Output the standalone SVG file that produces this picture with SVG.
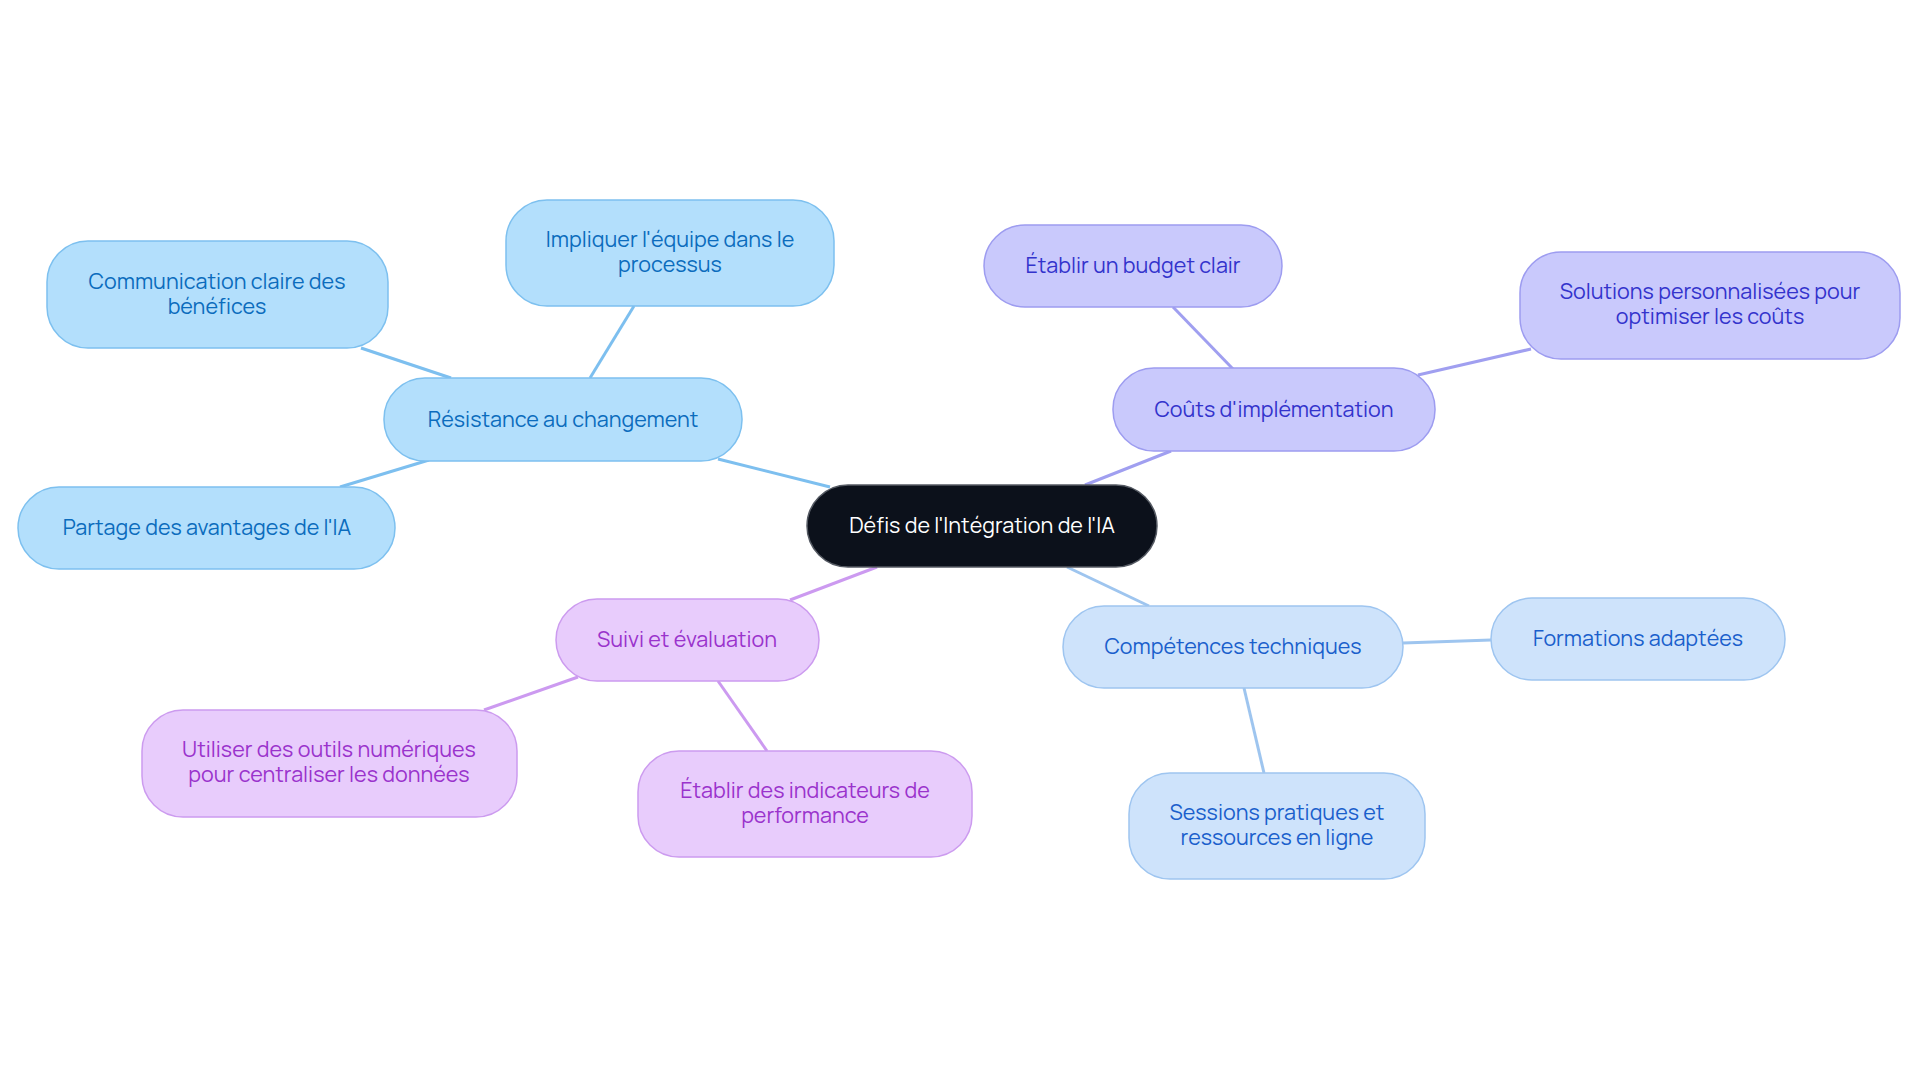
<svg xmlns="http://www.w3.org/2000/svg" width="1920" height="1083" viewBox="0 0 1920 1083">
<style>
text{font-family:Manrope,Inter,"Noto Sans",sans-serif;font-size:21.5px;text-anchor:middle;dominant-baseline:central}
.c rect{fill:#0c111b;stroke:#555a63;stroke-width:1.5}
.c text{fill:#ffffff}
.b rect{fill:#b3dffc;stroke:#7dc0ef;stroke-width:1.5}
.b text{fill:#0b6cbd}
.p rect{fill:#c9c9fc;stroke:#9d9cf0;stroke-width:1.5}
.p text{fill:#3333cc}
.v rect{fill:#e8ccfc;stroke:#cc9bef;stroke-width:1.5}
.v text{fill:#9a33cc}
.l rect{fill:#cee3fb;stroke:#9ec5f0;stroke-width:1.5}
.l text{fill:#1a5fcc}
#connectors line{stroke-width:3;fill:none}
.cb{stroke:#7dbfef}.cp{stroke:#a09ff0}.cv{stroke:#cc9af0}.cl{stroke:#9ec5ef}
</style>
<rect width="1920" height="1083" fill="#ffffff"/>
<g id="connectors">
<line class="cb" x1="830" y1="487" x2="718" y2="459"/>
<line class="cb" x1="451" y1="378" x2="361" y2="348"/>
<line class="cb" x1="590" y1="378" x2="634" y2="306"/>
<line class="cb" x1="429" y1="460" x2="340" y2="487"/>
<line class="cp" x1="1085" y1="485" x2="1171" y2="451"/>
<line class="cp" x1="1233" y1="369" x2="1173" y2="307"/>
<line class="cp" x1="1418" y1="375" x2="1531" y2="349"/>
<line class="cv" x1="877" y1="567" x2="790" y2="600"/>
<line class="cv" x1="578" y1="677" x2="484" y2="710"/>
<line class="cv" x1="718" y1="681" x2="767" y2="751"/>
<line class="cl" x1="1067" y1="567" x2="1149" y2="606"/>
<line class="cl" x1="1403" y1="643" x2="1491" y2="640"/>
<line class="cl" x1="1244" y1="688" x2="1264" y2="773"/>
</g>
<g id="center" class="c"><rect x="807" y="485" width="350" height="82" rx="41"/><text x="982" y="524">Défis de l'Intégration de l'IA</text></g>
<g id="resistance" class="b"><rect x="384" y="378" width="358" height="83" rx="41"/><text x="563" y="418">Résistance au changement</text></g>
<g id="communication" class="b"><rect x="47" y="241" width="341" height="107" rx="41"/><text x="217" y="280">Communication claire des</text><text x="217" y="305">bénéfices</text></g>
<g id="impliquer" class="b"><rect x="506" y="200" width="328" height="106" rx="41"/><text x="670" y="238">Impliquer l'équipe dans le</text><text x="670" y="263">processus</text></g>
<g id="partage" class="b"><rect x="18" y="487" width="377" height="82" rx="41"/><text x="207" y="526">Partage des avantages de l'IA</text></g>
<g id="couts" class="p"><rect x="1113" y="368" width="322" height="83" rx="41"/><text x="1274" y="408">Coûts d'implémentation</text></g>
<g id="budget" class="p"><rect x="984" y="225" width="298" height="82" rx="41"/><text x="1133" y="264">Établir un budget clair</text></g>
<g id="solutions" class="p"><rect x="1520" y="252" width="380" height="107" rx="41"/><text x="1710" y="290">Solutions personnalisées pour</text><text x="1710" y="315">optimiser les coûts</text></g>
<g id="suivi" class="v"><rect x="556" y="599" width="263" height="82" rx="41"/><text x="687" y="638">Suivi et évaluation</text></g>
<g id="utiliser" class="v"><rect x="142" y="710" width="375" height="107" rx="41"/><text x="329" y="748">Utiliser des outils numériques</text><text x="329" y="773">pour centraliser les données</text></g>
<g id="indicateurs" class="v"><rect x="638" y="751" width="334" height="106" rx="41"/><text x="805" y="789">Établir des indicateurs de</text><text x="805" y="814">performance</text></g>
<g id="competences" class="l"><rect x="1063" y="606" width="340" height="82" rx="41"/><text x="1233" y="645">Compétences techniques</text></g>
<g id="formations" class="l"><rect x="1491" y="598" width="294" height="82" rx="41"/><text x="1638" y="637">Formations adaptées</text></g>
<g id="sessions" class="l"><rect x="1129" y="773" width="296" height="106" rx="41"/><text x="1277" y="811">Sessions pratiques et</text><text x="1277" y="836">ressources en ligne</text></g>
</svg>
